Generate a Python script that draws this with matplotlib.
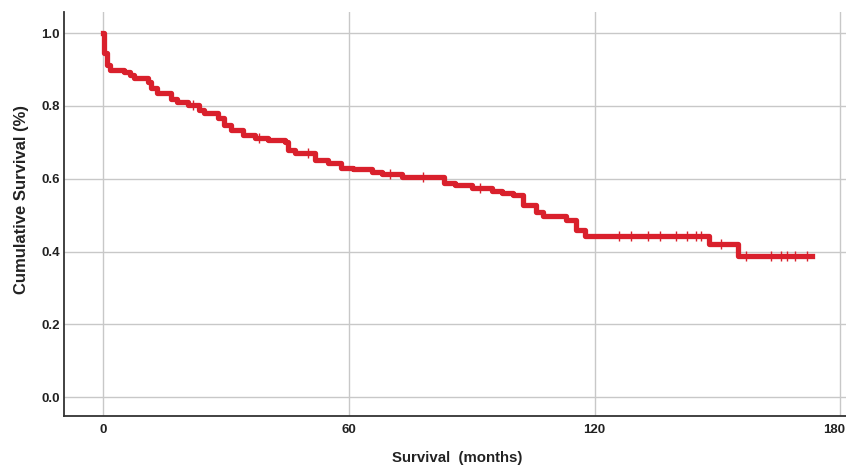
import numpy as np
import matplotlib.pyplot as plt

# Kaplan-Meier step points (months, cumulative survival)
times = [0, 0.2, 0.9, 1.7, 5, 6.6, 7.4, 10.8, 11.6, 13.2, 16.5, 18, 20.6, 23.4,
         24.6, 28, 29.5, 31.2, 34, 37, 40.3, 44.3, 45, 46.7, 51.6, 55, 58,
         61, 65.6, 68, 73, 83.3, 86, 90, 95, 97.5, 100, 102.5, 105.7, 107.4,
         113, 115.5, 117.7, 148, 155, 173]
surv = [1.0, 0.945, 0.912, 0.898, 0.893, 0.885, 0.876, 0.865, 0.849, 0.835,
        0.82, 0.81, 0.802, 0.788, 0.78, 0.766, 0.747, 0.734, 0.72, 0.711,
        0.706, 0.70, 0.679, 0.67, 0.651, 0.643, 0.629, 0.626, 0.618, 0.613,
        0.604, 0.588, 0.582, 0.575, 0.566, 0.56, 0.555, 0.527, 0.508, 0.497,
        0.487, 0.459, 0.442, 0.42, 0.387, 0.387]

# censored observations
censored = [22, 38, 50, 70, 78, 92, 126, 129, 133, 136, 140, 142.5, 144.7,
            146, 151, 157, 163, 165.6, 167, 169, 172]

xticks = [0, 60, 120, 180]
yticks = [0.0, 0.2, 0.4, 0.6, 0.8, 1.0]

red = '#d9202c'
plt.rcParams['font.family'] = ['Liberation Sans', 'DejaVu Sans']

fig = plt.figure(figsize=(8.46, 4.65), dpi=100)
ax = fig.add_axes([0.0757, 0.1054, 0.93, 0.8686])

ax.step(times, surv, where='post', color=red, linewidth=3.8, zorder=3)

idx = np.searchsorted(times, censored, side='right') - 1
cens_y = np.array(surv)[idx]
ax.plot(censored, cens_y, linestyle='none', marker='|', markersize=7,
        markeredgewidth=1.0, color=red, zorder=3)

ax.set_xlim(-9.6, 182.6)
ax.set_ylim(-0.052, 1.058)
ax.set_xticks(xticks)
ax.set_yticks(yticks)
# the last x label is placed by hand so it sits flush with the right edge
xlabels = [str(t) for t in xticks]
ax.set_xticklabels(xlabels[:-1] + [''], fontsize=9.5, fontweight='bold',
                   color='#222222')
ax.set_yticklabels([f'{t:.1f}' for t in yticks], fontsize=9.5, fontweight='bold',
                   color='#222222')
ax.tick_params(axis='x', length=0, pad=5.5)
ax.tick_params(axis='y', length=0, pad=3)
fig.text(0.999, 0.0762, xlabels[-1], fontsize=9.5, fontweight='bold',
         color='#222222', ha='right', va='center')

ax.grid(True, color='#c8c8c8', linewidth=1)
ax.set_axisbelow(True)
for side in ['top', 'right']:
    ax.spines[side].set_visible(False)
for side in ['left', 'bottom']:
    ax.spines[side].set_color('#333333')
    ax.spines[side].set_linewidth(1.3)

fig.text(0.026, 0.57, 'Cumulative Survival (%)', rotation=90, fontsize=12,
         fontweight='bold', color='#222222', ha='center', va='center')
fig.text(0.541, 0.015, 'Survival  (months)', fontsize=10.8, fontweight='bold',
         color='#222222', ha='center', va='center')

fig.savefig('out.png', dpi=100)
